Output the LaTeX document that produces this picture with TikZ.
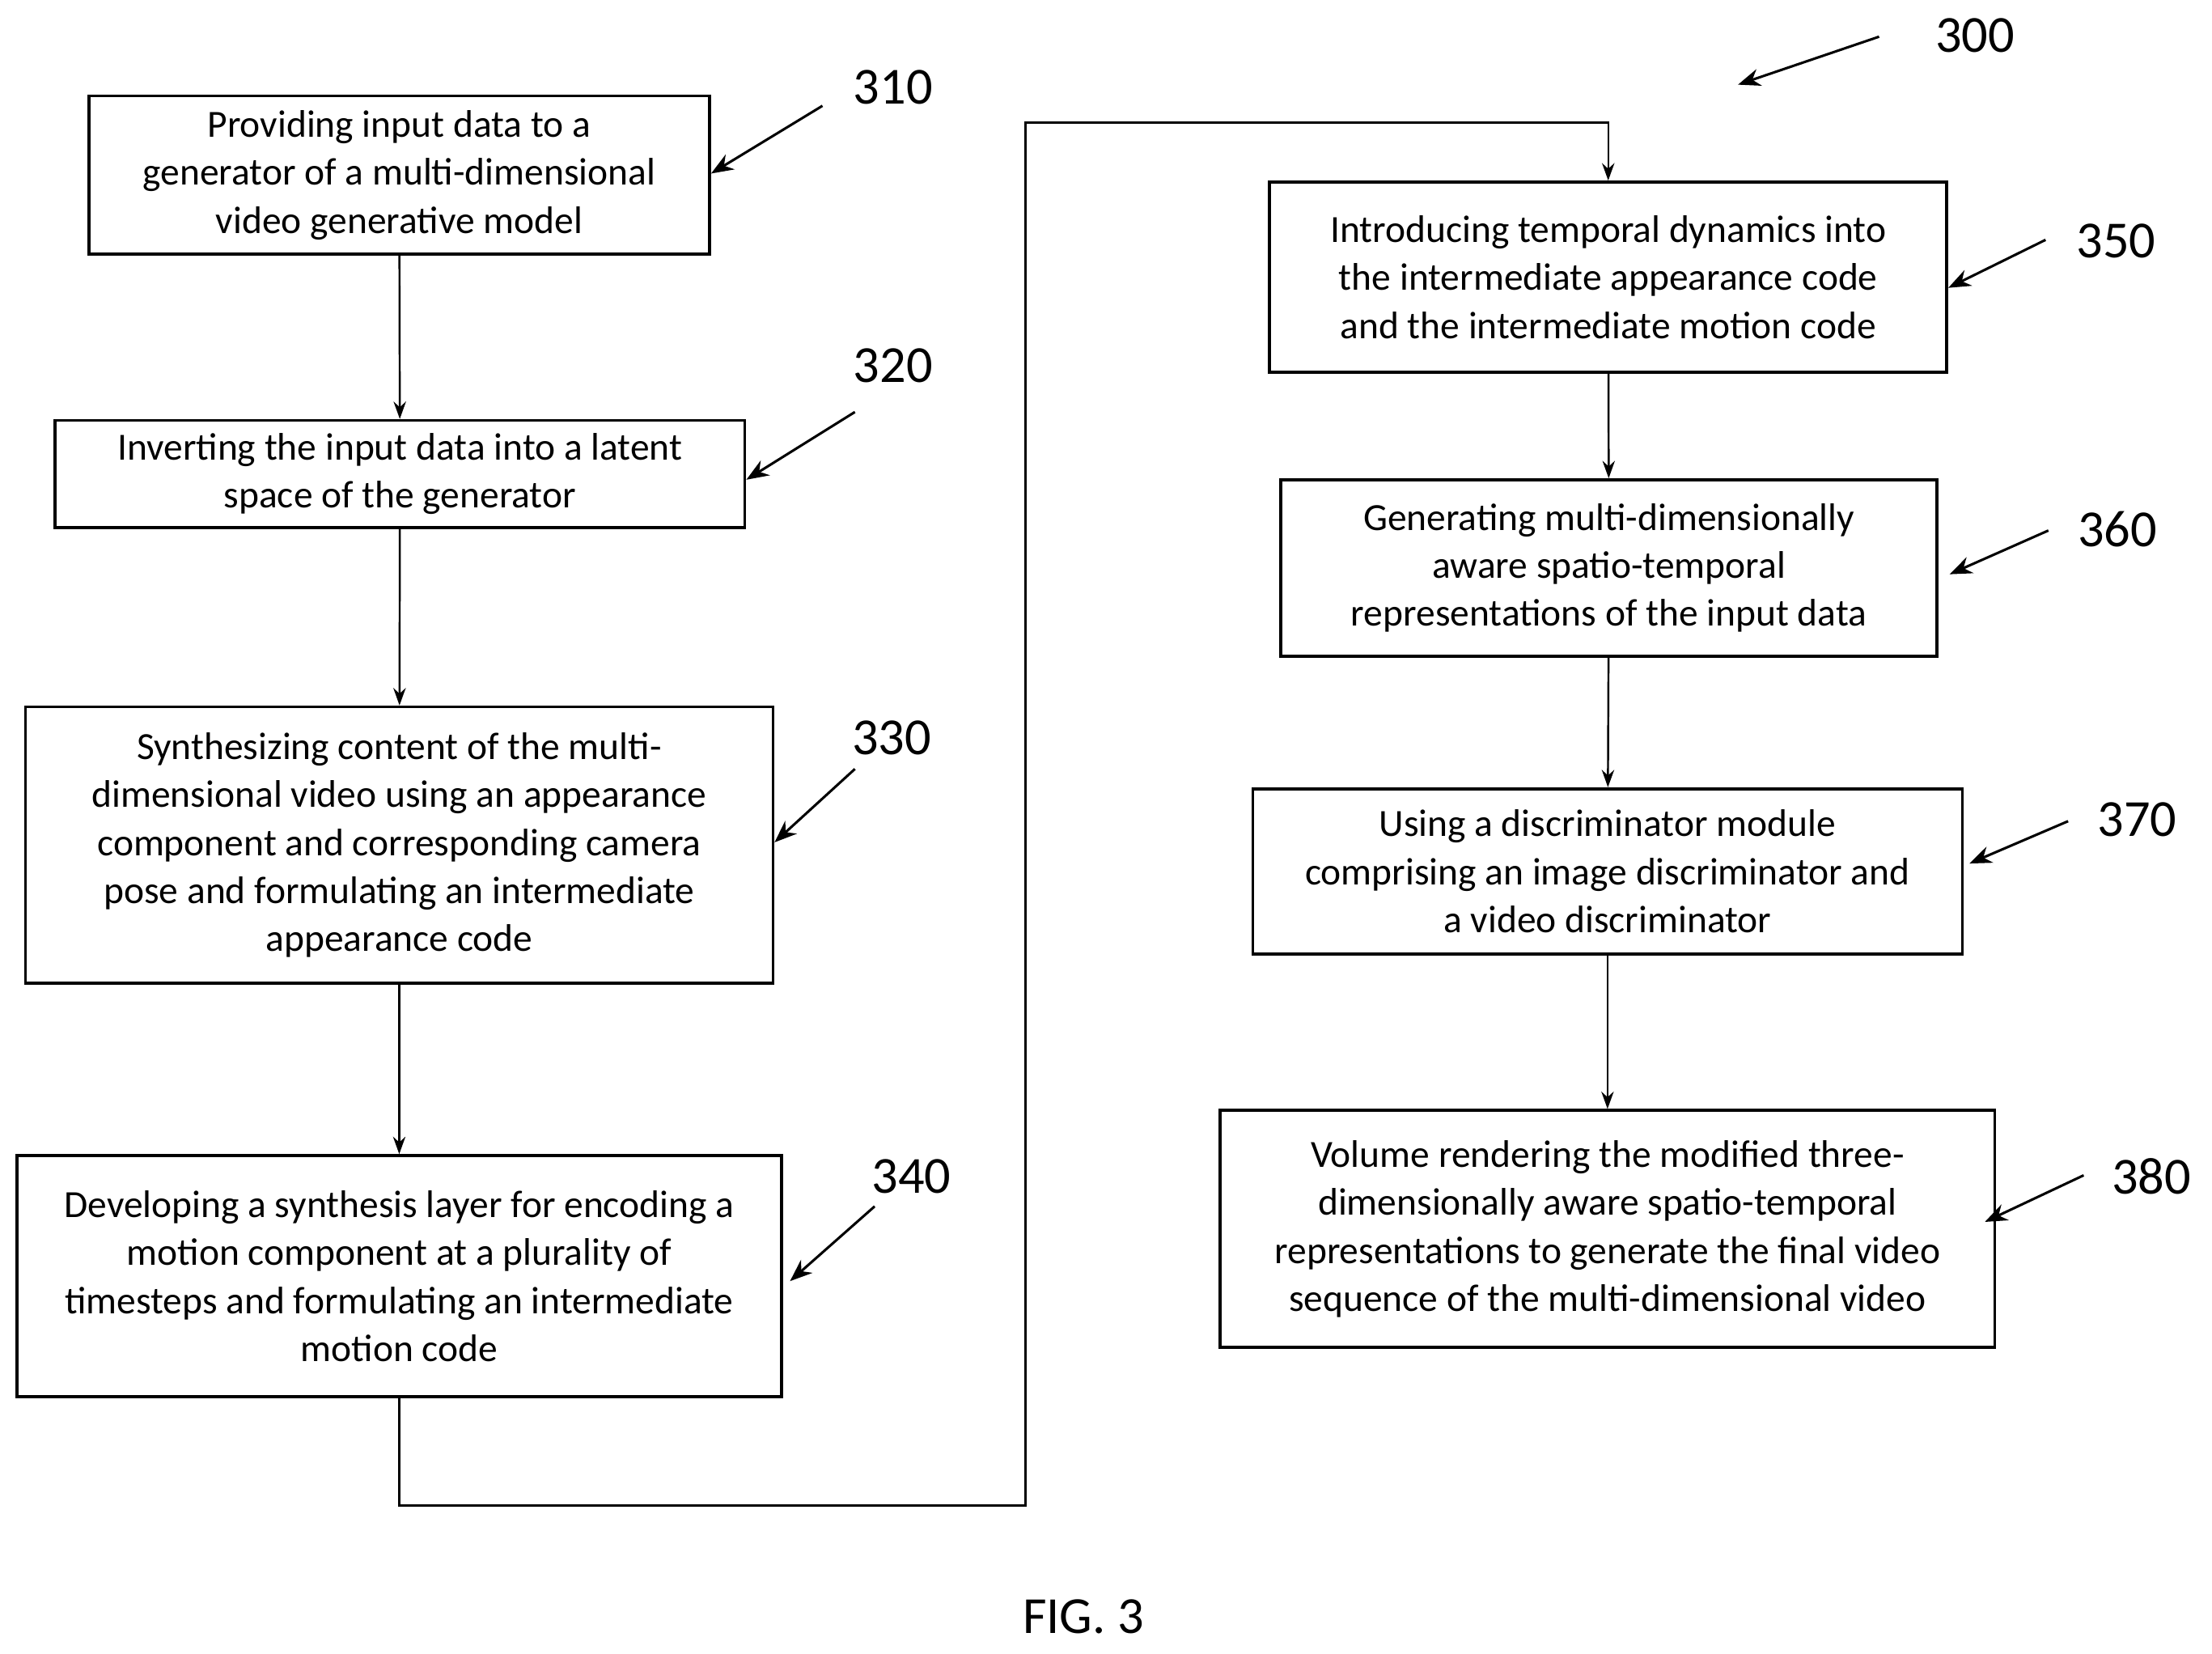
\documentclass[tikz,border=0pt]{standalone}
\usepackage{fontspec}
\setmainfont{Carlito}
\usetikzlibrary{arrows.meta}
\begin{document}
\begin{tikzpicture}[x=0.02cm,y=-0.02cm,
 box/.style={draw,line width=1.2pt,align=center,inner sep=0pt,font=\fontsize{15.5}{19.4}\selectfont},
 lab/.style={font=\fontsize{21}{24}\selectfont},
 arr/.style={-{Stealth[length=7pt,width=5pt]},line width=0.8pt},
 ptr/.style={-{Stealth[length=9pt,width=7pt]},line width=1pt}]
\useasboundingbox (0,0) rectangle (1568,1172);
\node[box,minimum width=440*0.02cm,minimum height=112*0.02cm] (b310) at (283,124) {Providing input data to a\\generator of a multi-dimensional\\video generative model};
\node[box,minimum width=489*0.02cm,minimum height=76*0.02cm] (b320) at (283.5,336) {Inverting the input data into a latent\\space of the generator};
\node[box,minimum width=530*0.02cm,minimum height=196*0.02cm] (b330) at (283,599) {Synthesizing content of the multi-\\dimensional video using an appearance\\component and corresponding camera\\pose and formulating an intermediate\\appearance code};
\node[box,minimum width=542*0.02cm,minimum height=171*0.02cm] (b340) at (283,904.5) {Developing a synthesis layer for encoding a\\motion component at a plurality of\\timesteps and formulating an intermediate\\motion code};
\node[box,minimum width=480*0.02cm,minimum height=135*0.02cm] (b350) at (1140,196.5) {Introducing temporal dynamics into\\the intermediate appearance code\\and the intermediate motion code};
\node[box,minimum width=465*0.02cm,minimum height=125*0.02cm] (b360) at (1140.5,402.5) {Generating multi-dimensionally\\aware spatio-temporal\\representations of the input data};
\node[box,minimum width=503*0.02cm,minimum height=117*0.02cm] (b370) at (1139.5,617.5) {Using a discriminator module\\comprising an image discriminator and\\a video discriminator};
\node[box,minimum width=549*0.02cm,minimum height=168*0.02cm] (b380) at (1139.5,871) {Volume rendering the modified three-\\dimensionally aware spatio-temporal\\representations to generate the final video\\sequence of the multi-dimensional video};
\draw[arr] (b310) -- (b320);
\draw[arr] (b320) -- (b330);
\draw[arr] (b330) -- (b340);
\draw[arr] (b340.south) -- (283,1067) -- (727,1067) -- (727,87) -- (b350.north |- 0,87) -- (b350.north);
\draw[arr] (b350) -- (b360);
\draw[arr] (b360) -- (b370);
\draw[arr] (b370) -- (b380);
\node[lab] (l310) at (633,62) {310};
\node[lab] (l320) at (633,259) {320};
\node[lab] (l330) at (632,523) {330};
\node[lab] (l340) at (646,834) {340};
\node[lab] (l350) at (1500,171) {350};
\node[lab] (l360) at (1501,375) {360};
\node[lab] (l370) at (1515,581) {370};
\node[lab] (l380) at (1525,834) {380};
\node[lab] (l300) at (1400,25) {300};
\coordinate (s310) at (583,75); \coordinate (s320) at (606,292);
\coordinate (s330) at (606,545); \coordinate (s340) at (620,855);
\coordinate (s350) at (1450,170); \coordinate (s360) at (1452,376);
\coordinate (s370) at (1466,582); \coordinate (s380) at (1477,833);
\coordinate (s300) at (1332,26); \coordinate (t300) at (1232,60);
\draw[ptr] (s310) -- (b310.east |- 0,123);
\draw[ptr] (s320) -- (b320.east |- 0,340);
\draw[ptr] (s330) -- (b330.east |- 0,597);
\draw[ptr] (s340) -- (560,908);
\draw[ptr] (s350) -- (b350.east |- 0,204);
\draw[ptr] (s360) -- (1382,407);
\draw[ptr] (s370) -- (1396,612);
\draw[ptr] (s380) -- (1407,866);
\draw[ptr] (s300) -- (t300);
\node[lab] (fig) at (768,1146) {FIG. 3};
\end{tikzpicture}
\end{document}
